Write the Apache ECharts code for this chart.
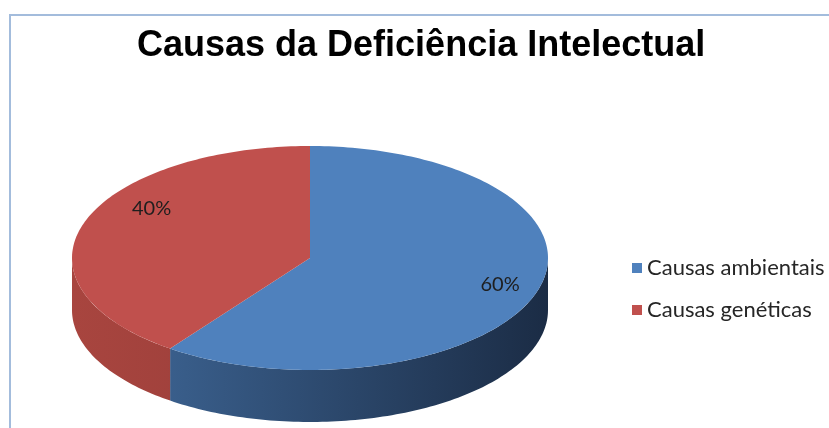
<!DOCTYPE html>
<html>
<head>
<meta charset="utf-8">
<script src="https://cdn.jsdelivr.net/npm/echarts@6/dist/echarts.min.js"></script>
<style>
  html, body { margin: 0; padding: 0; background: #fff; }
  #chart { width: 829px; height: 428px; }
</style>
</head>
<body>
<div id="chart"></div>
<script>
// dados
const categories = ['Causas ambientais', 'Causas genéticas'];
const values = [60, 40];
const labels = ['60%', '40%'];

// cores (topo / lateral)
const topColors = ['#4f81bd', '#c0504d'];
const sideColors = [['#416b9d', '#1b2c45'], ['#a8453f', '#8a3533']];

// geometria da pizza 3D
const CX = 310, CY = 258, RX = 238, RY = 112, DEPTH = 52;
const LABEL_K = [[0.84, 0.78], [0.70, 1.44]];

const total = values.reduce((a, b) => a + b, 0);

function pt(a, dy) {
  return [CX + RX * Math.sin(a), CY - RY * Math.cos(a) + (dy || 0)];
}

function arc(s, e, dy) {
  let pts = [];
  let n = Math.max(2, Math.ceil((e - s) / 0.02));
  for (let i = 0; i <= n; i++) {
    pts.push(pt(s + (e - s) * i / n, dy));
  }
  return pts;
}

function makeRender(idx) {
  return function (params, api) {
    let before = 0;
    for (let i = 0; i < idx; i++) before += values[i];
    let s = before / total * Math.PI * 2;
    let e = (before + values[idx]) / total * Math.PI * 2;
    let children = [];
    // lateral visível (metade da frente)
    let s2 = Math.max(s, Math.PI / 2);
    let e2 = Math.min(e, Math.PI * 1.5);
    if (e2 > s2) {
      let topArc = arc(s2, e2, 0);
      let botArc = arc(s2, e2, DEPTH).reverse();
      children.push({
        type: 'polygon',
        shape: { points: topArc.concat(botArc) },
        style: {
          fill: {
            type: 'linear', x: CX - RX, y: 0, x2: CX + RX, y2: 0, global: true,
            colorStops: [{ offset: 0, color: sideColors[idx][0] }, { offset: 1, color: sideColors[idx][1] }]
          }
        }
      });
    }
    // topo
    children.push({
      type: 'polygon',
      shape: { points: [[CX, CY]].concat(arc(s, e, 0)) },
      style: { fill: topColors[idx] }
    });
    // rótulo
    let m = (s + e) / 2;
    children.push({
      type: 'text',
      x: CX + RX * Math.sin(m) * LABEL_K[idx][0],
      y: CY - RY * Math.cos(m) * LABEL_K[idx][1],
      style: {
        text: labels[idx],
        fill: '#1e1e1e',
        font: '20px Lato, "Open Sans", sans-serif',
        align: 'center',
        verticalAlign: 'middle'
      }
    });
    return { type: 'group', children: children };
  };
}

const chart = echarts.init(document.getElementById('chart'));
chart.setOption({
  animation: false,
  title: {
    text: 'Causas da Deficiência Intelectual',
    left: 137,
    top: 28,
    padding: 0,
    textStyle: {
      fontFamily: '"Liberation Sans Narrow", sans-serif',
      fontWeight: 'bold',
      fontSize: 36,
      color: '#000'
    }
  },
  legend: {
    orient: 'vertical',
    left: 632,
    top: 257,
    padding: 0,
    icon: 'rect',
    itemWidth: 10,
    itemHeight: 10,
    itemGap: 20,
    data: categories,
    textStyle: { fontFamily: 'Lato, sans-serif', fontSize: 22, color: '#262626' }
  },
  graphic: [{
    type: 'polyline',
    shape: { points: [[10, 428], [10, 15], [829, 15]] },
    style: { stroke: '#a3bcdc', lineWidth: 2, fill: null }
  }],
  series: categories.map((name, i) => ({
    type: 'custom',
    name: name,
    coordinateSystem: 'none',
    itemStyle: { color: topColors[i] },
    data: [values[i]],
    renderItem: makeRender(i)
  }))
});
</script>
</body>
</html>
